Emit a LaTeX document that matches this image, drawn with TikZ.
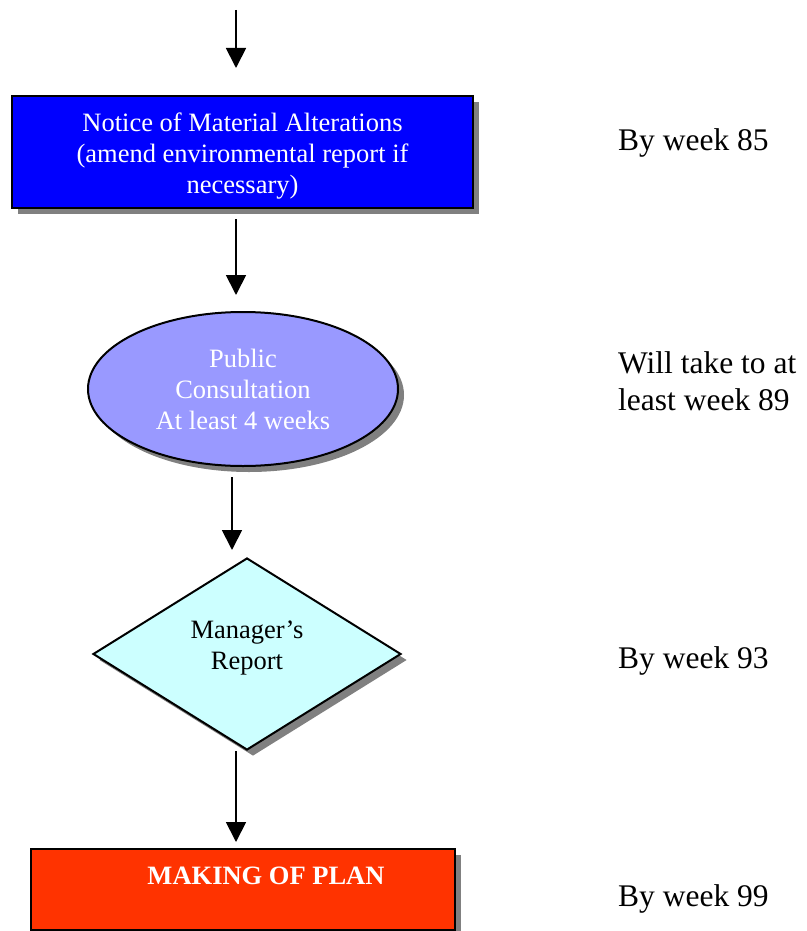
\documentclass[tikz,border=0pt]{standalone}
\usepackage{fontspec}
\setmainfont{Liberation Serif}
\usetikzlibrary{shapes.geometric,shadows,arrows.meta}
\definecolor{noticeblue}{HTML}{0000FF}
\definecolor{consultlilac}{HTML}{9999FF}
\definecolor{reportcyan}{HTML}{CCFFFF}
\definecolor{planred}{HTML}{FF3300}
\definecolor{shadowgray}{HTML}{808080}

\begin{document}
\begin{tikzpicture}[x=1pt,y=-1pt,
  boxfont/.style={font=\fontsize{26.5}{31}\selectfont},
  sidefont/.style={font=\fontsize{31.5}{37}\selectfont},
  flowshape/.style={draw=black, line width=2pt, inner sep=0pt,
    drop shadow={shadow xshift=6pt, shadow yshift=-6pt, fill=shadowgray, opacity=1}},
  arr/.style={line width=1.8pt, -{Triangle[length=20pt,width=20pt]}},
  sidenote/.style={sidefont, align=left, inner sep=0pt}
]
\useasboundingbox (0,0) rectangle (806,931);

% flow shapes (struts nudge the text block inside each shape)
\node[flowshape, rectangle, fill=noticeblue, text=white, boxfont,
      minimum width=461pt, minimum height=112pt, align=center]
  (notice) at (242.5,152) {\rule{0pt}{26pt}Notice of Material Alterations\\(amend environmental report if\\necessary)};

\node[flowshape, ellipse, fill=consultlilac, text=white, boxfont,
      minimum width=310pt, minimum height=154pt, align=center]
  (consult) at (243,389) {Public\\Consultation\\At least 4 weeks};

\node[flowshape, diamond, fill=reportcyan, text=black, boxfont,
      minimum width=308pt, minimum height=192pt, align=center]
  (mgr) at (247,654) {Manager’s\\Report\rule[-17pt]{0pt}{17pt}};

\node[flowshape, rectangle, fill=planred, minimum width=424pt, minimum height=81pt,
      label={[text=white, font=\fontsize{26.5}{31}\selectfont\bfseries,
              xshift=23pt, yshift=13.5pt]center:MAKING OF PLAN}]
  (plan) at (243,889.5) {};

% connectors
\coordinate (spine) at (236,10);
\coordinate (spineb) at (232,0);
\draw[arr, shorten >=27pt] (spine) -- (spine |- notice.north);
\draw[arr, shorten <=10pt, shorten >=16pt] (spine |- notice.south) -- (spine |- consult.north);
\draw[arr, shorten <=10pt, shorten >=7pt] (spineb |- consult.south) -- (spineb |- mgr.north);
\draw[arr, shorten >=6pt] (spine |- mgr.south) -- (spine |- plan.north);

% timing notes
\node[sidenote, anchor=base west] (wk85) at (618,150) {By week 85};
\node[sidenote, anchor=west] (wk89) at (618,381) {Will take to at\\least week 89};
\node[sidenote, anchor=base west] (wk93) at (618,668) {By week 93};
\node[sidenote, anchor=base west] (wk99) at (618,906) {By week 99};
\end{tikzpicture}
\end{document}
